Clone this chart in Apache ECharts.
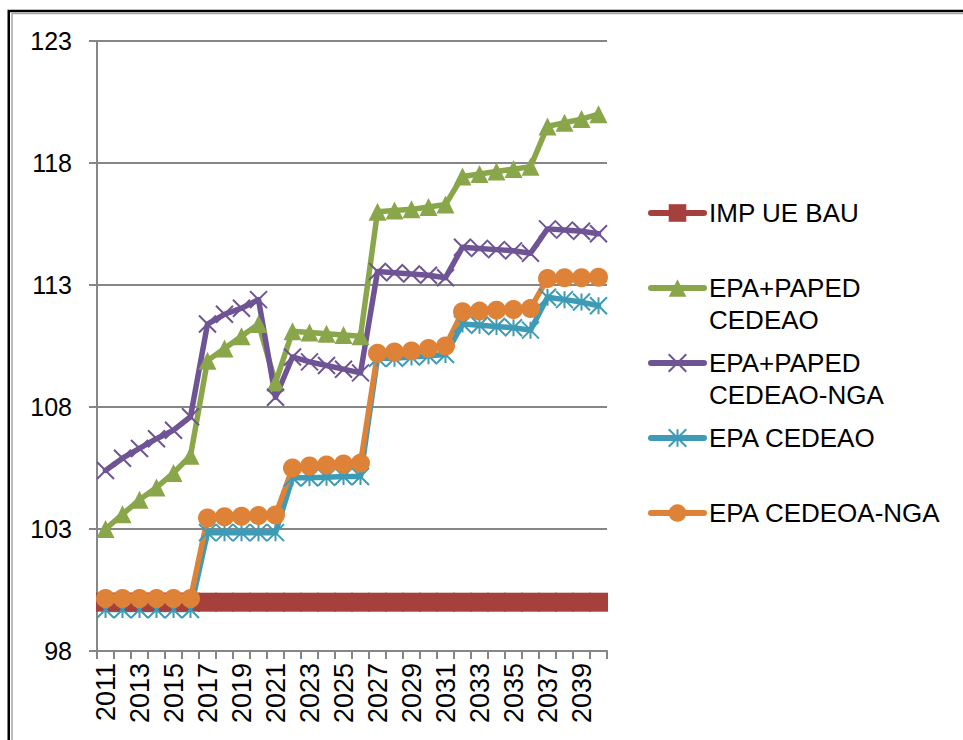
<!DOCTYPE html>
<html>
<head>
<meta charset="utf-8">
<title>IMP UE</title>
<script src="https://cdn.jsdelivr.net/npm/echarts@6/dist/echarts.min.js"></script>
<style>
  html, body { margin: 0; padding: 0; background: #fff; }
  #chart { width: 963px; height: 740px; }
</style>
</head>
<body>
<div id="chart"></div>
<script>
// categories
const years = ['2011', '2012', '2013', '2014', '2015', '2016', '2017', '2018', '2019', '2020',
  '2021', '2022', '2023', '2024', '2025', '2026', '2027', '2028', '2029', '2030',
  '2031', '2032', '2033', '2034', '2035', '2036', '2037', '2038', '2039', '2040'];

// series values
const impUeBau = [100, 100, 100, 100, 100, 100, 100, 100, 100, 100,
  100, 100, 100, 100, 100, 100, 100, 100, 100, 100,
  100, 100, 100, 100, 100, 100, 100, 100, 100, 100];
const epaPapedCedeao = [103.0, 103.6, 104.2, 104.7, 105.3, 106.0, 109.9, 110.4, 110.9, 111.4,
  109.0, 111.1, 111.05, 111.0, 110.95, 110.9, 116.0, 116.05, 116.1, 116.2,
  116.3, 117.45, 117.55, 117.65, 117.75, 117.85, 119.5, 119.65, 119.8, 120.0];
const epaPapedCedeaoNga = [105.4, 105.9, 106.3, 106.7, 107.05, 107.6, 111.4, 111.8, 112.05, 112.4,
  108.4, 110.05, 109.85, 109.7, 109.55, 109.4, 113.55, 113.5, 113.45, 113.4,
  113.3, 114.55, 114.5, 114.45, 114.4, 114.3, 115.3, 115.25, 115.2, 115.1];
const epaCedeao = [99.7, 99.7, 99.7, 99.7, 99.7, 99.7, 102.85, 102.85, 102.85, 102.85,
  102.85, 105.1, 105.1, 105.12, 105.15, 105.15, 110.0, 110.0, 110.05, 110.1,
  110.15, 111.4, 111.35, 111.3, 111.25, 111.15, 112.5, 112.4, 112.3, 112.15];
const epaCedeoaNga = [100.15, 100.15, 100.15, 100.15, 100.15, 100.15, 103.45, 103.5, 103.52, 103.55,
  103.57, 105.5, 105.58, 105.62, 105.66, 105.7, 110.2, 110.25, 110.3, 110.4,
  110.5, 111.9, 111.93, 111.97, 112.0, 112.04, 113.27, 113.3, 113.3, 113.32];

// legend labels (with Excel-like wrapping)
const seriesNames = ['IMP UE BAU', 'EPA+PAPED CEDEAO', 'EPA+PAPED CEDEAO-NGA', 'EPA CEDEAO', 'EPA CEDEOA-NGA'];
const legendLines = [['IMP UE BAU'], ['EPA+PAPED', 'CEDEAO'], ['EPA+PAPED', 'CEDEAO-NGA'], ['EPA CEDEAO'], ['EPA CEDEOA-NGA']];

const FONT = "'Liberation Sans', Arial, sans-serif";
const AXIS_GREY = '#868686';
const crossPath = 'path://M0,0L10,10M10,0L0,10';
const starPath = 'path://M0,0L10,10M10,0L0,10M5,0L5,10';

function lineSeries(name, data, color, symbol, size, outline) {
  return {
    name: name,
    type: 'line',
    data: data,
    symbol: symbol,
    symbolSize: size,
    showAllSymbol: true,
    lineStyle: { color: color, width: 5.5, cap: 'round', join: 'round' },
    itemStyle: outline
      ? { color: 'rgba(0,0,0,0)', borderColor: color, borderWidth: 2 }
      : { color: color, borderWidth: 0 },
    emphasis: { disabled: true }
  };
}

// one legend per entry so the marker sits on the first text line, like Excel
const legendRowHeight = 32;
const legends = seriesNames.map(function (name, i) {
  const lines = legendLines[i];
  const text = lines.length > 1 ? '\n' + lines.join('\n') : lines[0];
  const nLines = lines.length > 1 ? 3 : 1;
  const iconY = 213 + 75 * i;
  return {
    data: [name],
    left: 648,
    top: iconY - nLines * legendRowHeight / 2,
    padding: 0,
    itemWidth: 53,
    itemHeight: 22,
    selectedMode: false,
    lineStyle: { width: 6, cap: 'round' },
    formatter: function () { return text; },
    textStyle: { fontFamily: FONT, fontSize: 26, lineHeight: legendRowHeight, color: '#000' }
  };
});

const chart = echarts.init(document.getElementById('chart'), null, { renderer: 'svg' });
chart.setOption({
  animation: false,
  backgroundColor: '#fff',
  grid: { left: 97, right: 356, top: 41, bottom: 89, containLabel: false },
  legend: legends,
  xAxis: {
    type: 'category',
    data: years,
    boundaryGap: true,
    axisLine: { lineStyle: { color: AXIS_GREY, width: 2 } },
    axisTick: { show: true, interval: 0, length: 8, lineStyle: { color: AXIS_GREY, width: 2 } },
    axisLabel: { interval: 1, rotate: 90, margin: 12, fontFamily: FONT, fontSize: 27, color: '#000' },
    splitLine: { show: false }
  },
  yAxis: {
    type: 'value',
    min: 98,
    max: 123,
    interval: 5,
    axisLine: { show: true, lineStyle: { color: AXIS_GREY, width: 2 } },
    axisTick: { show: true, length: 8, lineStyle: { color: AXIS_GREY, width: 2 } },
    axisLabel: { margin: 25, fontFamily: FONT, fontSize: 25, color: '#000' },
    splitLine: { lineStyle: { color: AXIS_GREY, width: 2 } }
  },
  graphic: [
    { type: 'rect', silent: true, shape: { x: 8.75, y: 11, width: 1000, height: 800 },
      style: { fill: 'none', stroke: '#000', lineWidth: 2.5 } },
    { type: 'rect', silent: true, shape: { x: 12, y: 13.5, width: 1000, height: 800 },
      style: { fill: 'none', stroke: '#a6a6a6', lineWidth: 1.5 } }
  ],
  series: [
    lineSeries(seriesNames[0], impUeBau, '#A5403D', 'rect', 19, false),
    lineSeries(seriesNames[1], epaPapedCedeao, '#8AA64A', 'triangle', 18, false),
    lineSeries(seriesNames[2], epaPapedCedeaoNga, '#6F5495', crossPath, 17, true),
    lineSeries(seriesNames[3], epaCedeao, '#3D9BB5', starPath, 17, true),
    lineSeries(seriesNames[4], epaCedeoaNga, '#DE8238', 'circle', 19, false)
  ]
});
</script>
</body>
</html>
